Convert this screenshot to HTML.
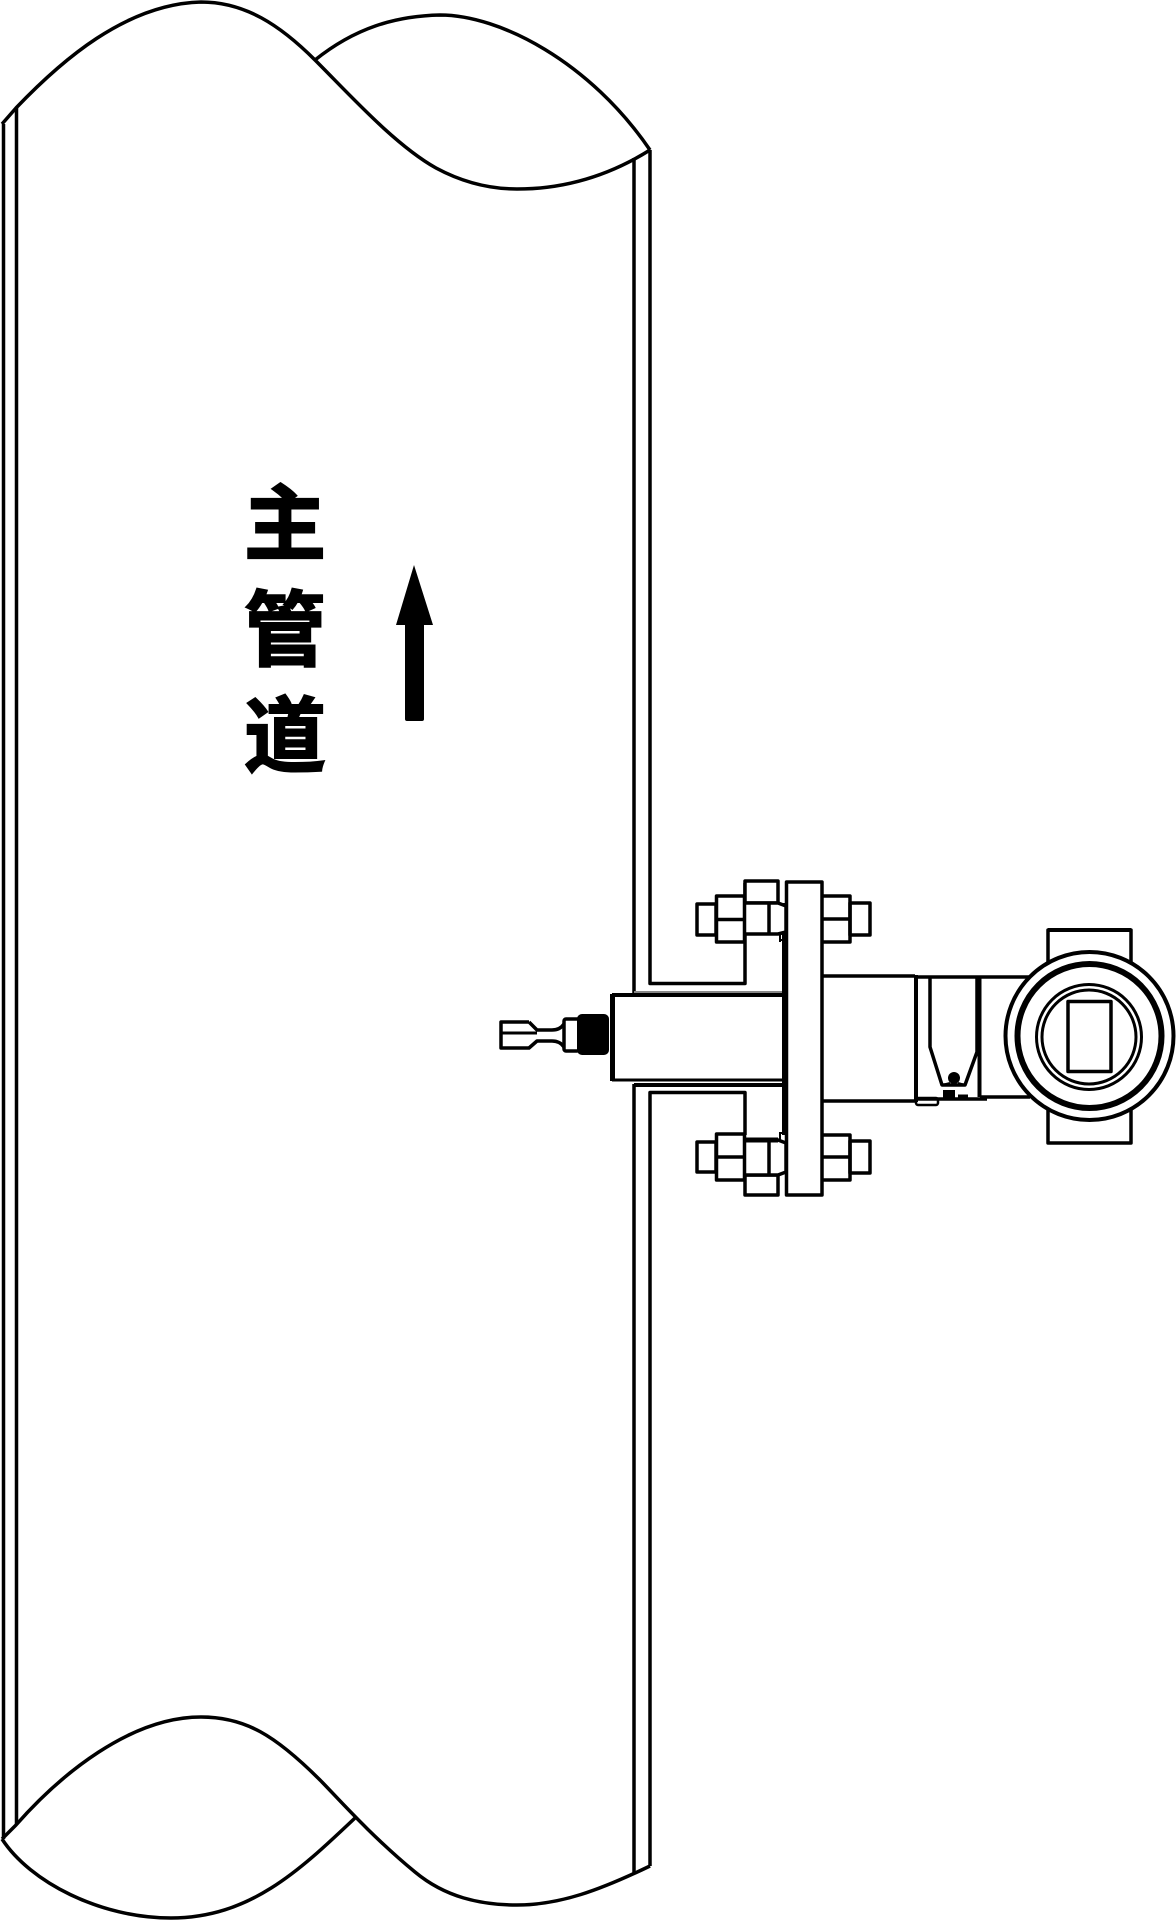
<!DOCTYPE html>
<html><head><meta charset="utf-8"><style>
html,body{margin:0;padding:0;background:#fff}
svg{display:block}
text{font-family:"Liberation Sans","Noto Sans CJK SC",sans-serif;font-weight:700;font-size:82px;fill:#000;stroke:#000;stroke-width:2px;text-anchor:middle}
</style></head><body>
<svg width="1176" height="1920" viewBox="0 0 1176 1920" xmlns="http://www.w3.org/2000/svg">
<rect width="1176" height="1920" fill="#fff"/>
<g fill="none" stroke="#000" stroke-width="3.500" stroke-linejoin="round">
<!-- top curves -->
<path d="M2,124 L16,108 C60,62 125,4 201,2 C245,2 280,25 315,60 C350,95 395,145 436,168 C462,182 490,189 517,189 C565,189 610,175 650,150"/>
<path d="M315,60 C355,28 395,16 440,15 C500,15 590,62 650,150"/>
<!-- bottom curves -->
<path d="M2,1839 L16,1825 C60,1775 130,1717 201,1717 C245,1717 275,1735 320,1780 C335,1795 370,1835 415,1872 C445,1897 480,1905 517,1905 C560,1905 600,1890 650,1866"/>
<path d="M2,1839 C30,1882 100,1918 171,1918 C250,1918 300,1870 355,1818"/>
<!-- walls -->
<path d="M3.500,124V1839M16.500,108V1825"/>
<path d="M634,158V995M650,150V983.500H745V883"/>
<path d="M634,1084V1873M650,1866V1092.500H745V1135"/>
<!-- nozzle -->
<path d="M634,992H783" stroke="#888" stroke-width="2"/>
<path d="M612,995H783" stroke-width="4"/>
<path d="M612,1080H783" stroke-width="3"/>
<path d="M634,1085H783" stroke-width="4"/>
<path d="M612.500,994V1081" stroke-width="5"/>
<path d="M784,903V1135" stroke-width="4"/>
<!-- flange -->
<rect x="786.500" y="882" width="35.500" height="313" fill="#fff"/>
<!-- upper bolts -->
<rect x="745" y="881" width="33" height="22" fill="#fff"/>
<path d="M745,903H778L786,906V932L778,934H745" fill="#fff"/>
<path d="M769,903V933"/>
<rect x="697" y="904" width="19" height="31" fill="#fff"/>
<rect x="716.500" y="896" width="28" height="46" fill="#fff"/>
<path d="M717,919.500H744"/>
<path d="M779,940h7M780,934v8" stroke-width="2"/>
<!-- lower bolts -->
<rect x="745" y="1175" width="33" height="20" fill="#fff"/>
<path d="M745,1140H778L786,1143V1172L778,1175H745" fill="#fff"/>
<path d="M745,1140H778" stroke-width="5"/>
<path d="M769,1140V1174"/>
<rect x="697" y="1142" width="19" height="30" fill="#fff"/>
<rect x="716.500" y="1134" width="28" height="46" fill="#fff"/>
<path d="M717,1157H744"/>
<path d="M779,1133h7M780,1133v7" stroke-width="2"/>
<!-- right bolts -->
<rect x="850" y="903" width="20" height="32" fill="#fff"/>
<path d="M822,896H850V942H822M822,919H850"/>
<rect x="850" y="1141" width="20" height="32" fill="#fff"/>
<path d="M822,1135H850V1180H822M822,1157H850"/>
<!-- sensor -->
<path d="M529,1022H501V1048H529L537,1041H552Q560,1041 564,1047M529,1022L537,1030H552Q560,1030 564,1024" stroke-linejoin="round"/>
<path d="M501,1033H537" stroke-width="3"/>
<rect x="564" y="1019" width="15" height="32" fill="#fff" rx="2"/>
<rect x="577" y="1014" width="32" height="41" rx="5" fill="#000" stroke="none"/>
<!-- neck -->
<path d="M822,976H915M822,1101H915"/>
<path d="M916,975V1102" stroke-width="4"/>
<path d="M916,977H980M916,1099H987"/>
<path d="M979.500,977V1097" stroke-width="4"/>
<path d="M930,977V1047L942,1085H965L977,1052V977" />
<path d="M942,1085L950,1083M965,1085L958,1083" stroke-width="2"/>
<circle cx="954" cy="1078" r="6" fill="#000" stroke="none"/>
<rect x="943" y="1090" width="12" height="10" fill="#000" stroke="none"/>
<rect x="916" y="1098" width="22" height="7" rx="2" stroke-width="2.500"/>
<path d="M958,1096H968" stroke-width="3"/>
<path d="M980,977H1030M980,1097H1030"/>
<!-- head tabs -->
<rect x="1048" y="930" width="83" height="213" fill="#fff" stroke-width="3.500"/>
<path d="M1048,930H1131" stroke-width="4"/>
<circle cx="1089.500" cy="1036" r="84" fill="#fff" stroke-width="4"/>
<circle cx="1089.500" cy="1036" r="72" stroke-width="6"/>
<circle cx="1089" cy="1037" r="52.500" stroke-width="3"/>
<circle cx="1089" cy="1037" r="47" stroke-width="3"/>
<rect x="1068" y="1001.500" width="43" height="70" stroke-width="3.500"/>
</g>
<!-- arrow -->
<path d="M414,565L433,625H424V719Q424,721 422,721H407Q405,721 405,719V625H396Z" fill="#000"/>
<text x="285" y="553">主</text>
<text x="285" y="659">管</text>
<text x="285" y="765">道</text>
</svg>
</body></html>
